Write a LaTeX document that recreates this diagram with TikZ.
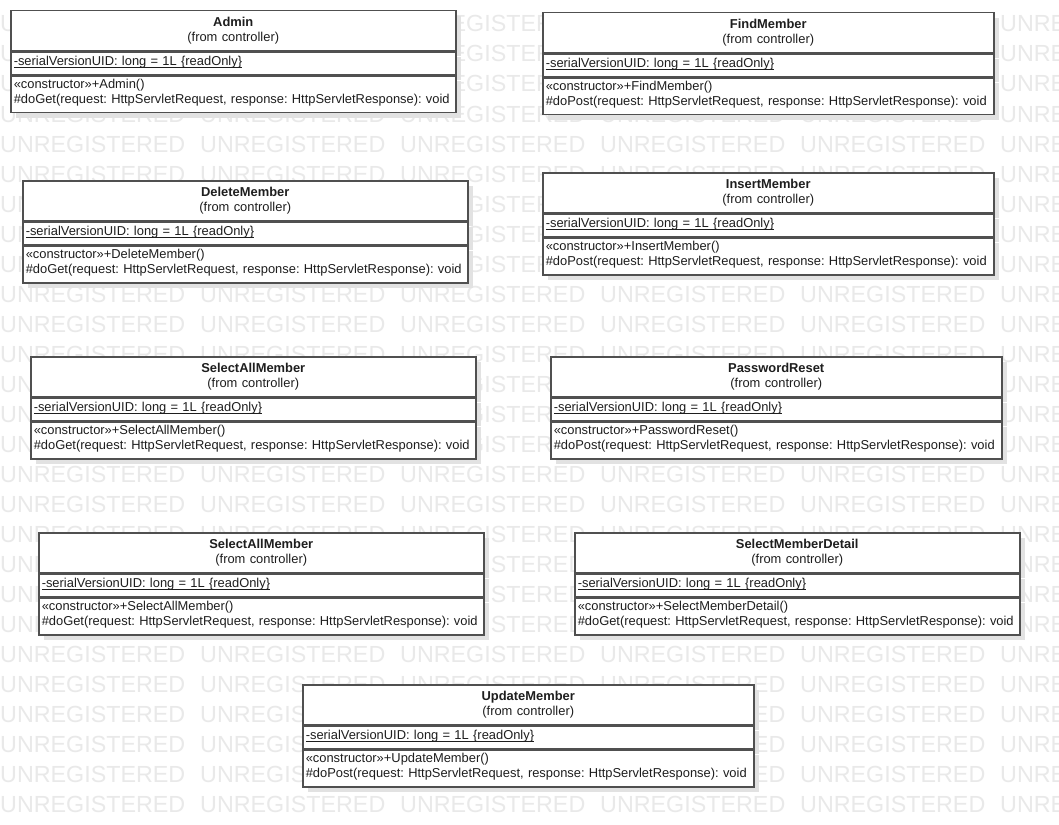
\documentclass[tikz,border=0pt]{standalone}
\usepackage{fontspec}
\setmainfont{Liberation Sans}
\usepackage{xcolor}
\definecolor{umlLine}{HTML}{505050}
\definecolor{umlText}{HTML}{1E1E1E}
\definecolor{umlShade}{HTML}{E2E2E2}
\definecolor{wmGray}{HTML}{E9E9E9}
\usepackage{tikz}
\usetikzlibrary{shadows}

% underlined static attribute, rule kept close to the baseline
\newcommand{\serialattr}{\setbox0\hbox{-serialVersionUID: long = 1L \{readOnly\}}\rlap{\rule[-2.4pt]{\wd0}{0.9pt}}\box0}

\begin{document}
\begin{tikzpicture}[x=1pt, y=-1pt,
  classpart/.style={draw=umlLine, line width=1.5pt, fill=white, text=umlText,
    inner xsep=3pt, inner ysep=0pt, font=\fontsize{12.9pt}{15pt}\selectfont\frenchspacing,
    drop shadow={shadow xshift=5pt, shadow yshift=-5pt, opacity=1, fill=umlShade}},
  classhead/.style={classpart, align=center, minimum height=40pt},
  classattr/.style={classpart, align=left, minimum height=22.5pt, text depth=4.7pt},
  classops/.style={classpart, align=left, minimum height=36.5pt, text depth=21.7pt},
  wmark/.style={anchor=base west, inner sep=0pt, text=wmGray,
    font=\fontsize{23.3pt}{24pt}\selectfont}]
  \useasboundingbox (0,0) rectangle (1059,824);
  \fill[white] (0,0) rectangle (1059,824);
  % ------- watermark -------
  \begin{scope}
    \clip (0,0) rectangle (1059,824);
    \foreach \r in {0,...,26} \foreach \c in {0,...,5} {
      \node[wmark] (wm-\r-\c) at (\c*200, 32+\r*30) {UNREGISTERED};
    }
  \end{scope}
  % ------- classes (from controller) -------
  \foreach \nm/\px/\py/\cls/\meth/\tw in {
      admin/10/10/Admin/Get/439,
      find/542/12/FindMember/Post/445,
      delete/22/180/DeleteMember/Get/439,
      insert/542/172/InsertMember/Post/445,
      selectall/30/356/SelectAllMember/Get/439,
      reset/550/356/PasswordReset/Post/445,
      selectalltwo/38/532/SelectAllMember/Get/439,
      detail/574/532/SelectMemberDetail/Get/439,
      update/302/684/UpdateMember/Post/445} {
    \node[classhead, text width=\tw pt, anchor=north west] (\nm-head) at (\px,\py)
      {\textbf{\cls}\\(from controller)};
    \node[classattr, text width=\tw pt, anchor=north] (\nm-attr) at (\nm-head.south)
      {\serialattr};
    \node[classops, text width=\tw pt, anchor=north] (\nm-ops) at (\nm-attr.south)
      {«constructor»+\cls()\\\#do\meth(request: HttpServletRequest, response: HttpServletResponse): void};
  }
\end{tikzpicture}
\end{document}
